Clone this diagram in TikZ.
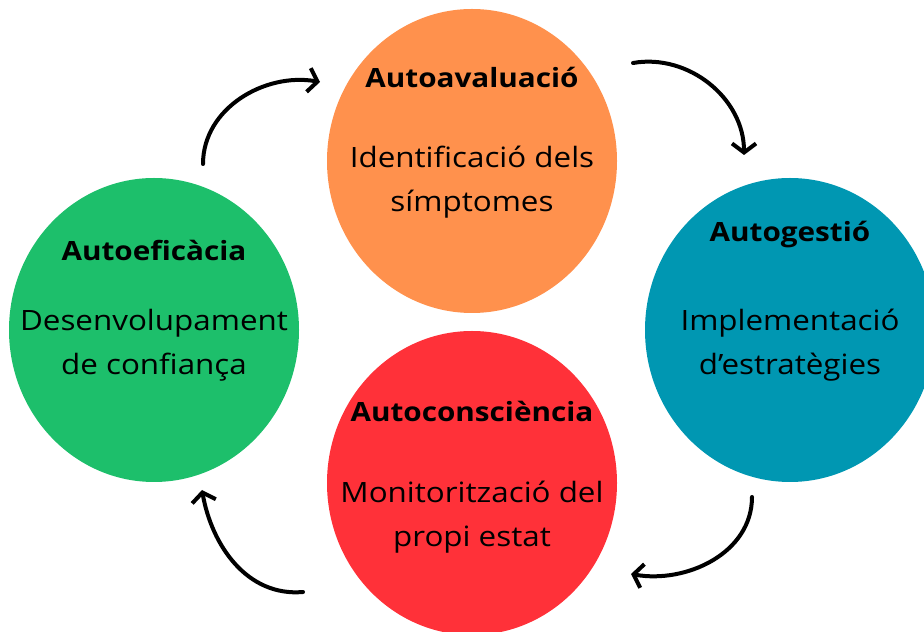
\documentclass[tikz,border=0pt]{standalone}
\usepackage{fontspec}
\setmainfont[FakeStretch=1.12]{Open Sans}
\usepackage{tikz}
\usetikzlibrary{arrows.meta,positioning,shapes.geometric}

\definecolor{orangeC}{HTML}{FF914D}
\definecolor{greenC}{HTML}{1DBF6B}
\definecolor{tealC}{HTML}{0097B2}
\definecolor{redC}{HTML}{FF3139}

\begin{document}
\begin{tikzpicture}[
  x=1pt, y=1pt,
  blob/.style={ellipse, inner sep=0pt, minimum width=290pt, minimum height=304pt},
  headline/.style={anchor=base, inner sep=0pt, font=\fontsize{26.5}{30}\selectfont\bfseries},
  bodytext/.style={anchor=base, inner sep=0pt, align=center, font=\fontsize{28}{44}\selectfont},
  cyclearrow/.style={-{Straight Barb[length=9pt,width=24pt]}, line width=4pt, line cap=round}
]
\clip (0,0) rectangle (924,632);

\node[blob, fill=orangeC] (aval) at (472,471) {};
\node[blob, fill=tealC] (gest) at (790,302) {};
\node[blob, fill=greenC] (efic) at (154,302) {};
\node[blob, fill=redC] (consc) at (472,149) {};

% titles and texts (base = last line)
\node[headline] (avalhead) at (472,544) {Autoavaluació};
\node[bodytext] (avaltext) at (472,420) {Identificació dels\\símptomes};
\node[headline] (gesthead) at (790,390) {Autogestió};
\node[bodytext] (gesttext) at (790,257) {Implementació\\d’estratègies};
\node[headline] (efichead) at (154,371) {Autoeficàcia};
\node[bodytext] (efictext) at (154,257) {Desenvolupament\\de confiança};
\node[headline] (conschead) at (472,210) {Autoconsciència};
\node[bodytext] (consctext) at (472,85) {Monitorització del\\propi estat};

% Arrows
\coordinate (a1s) at (203,468);
\coordinate (a1e) at (320,550);
\coordinate (a2s) at (633,569);
\coordinate (a2e) at (744,477);
\coordinate (a3s) at (752,135);
\coordinate (a3e) at (631,58);
\coordinate (a4s) at (303,40);
\coordinate (a4e) at (202,142);
\draw[cyclearrow] (a1s) to[out=90, in=170] (a1e);
\draw[cyclearrow] (a2s) to[out=10, in=90] (a2e);
\draw[cyclearrow] (a3s) to[out=-90, in=-10] (a3e);
\draw[cyclearrow] (a4s) to[out=185, in=-80] (a4e);

\end{tikzpicture}
\end{document}
